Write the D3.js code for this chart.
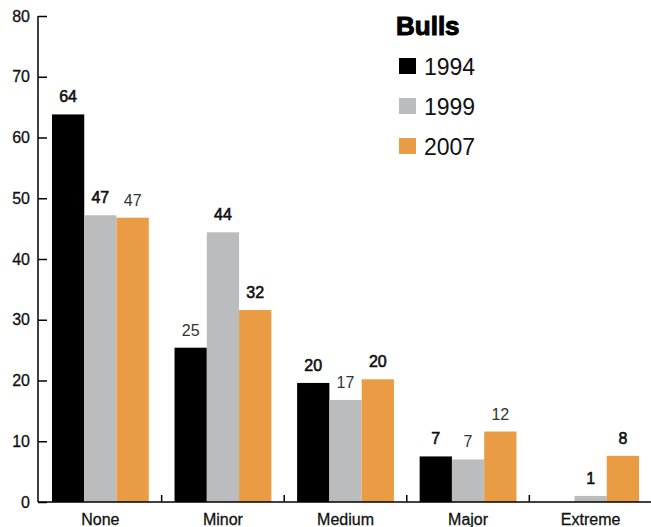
<!DOCTYPE html>
<html>
<head>
<meta charset="utf-8">
<script src="https://cdn.jsdelivr.net/npm/d3@7"></script>
<style>
  body { margin: 0; background: #fff; }
  text { font-family: "Liberation Sans", Arial, sans-serif; }
</style>
</head>
<body>
<svg width="651" height="527"></svg>
<script>
var categories = ["None", "Minor", "Medium", "Major", "Extreme"];
var years = ["1994", "1999", "2007"];
var values1994 = [63.8, 25.4, 19.6, 7.5, 0];
var values1999 = [47.2, 44.4, 16.8, 7, 1];
var values2007 = [46.8, 31.6, 20.2, 11.6, 7.6];
var labels1994 = ["64", "25", "20", "7", ""];
var labels1999 = ["47", "44", "17", "7", "1"];
var labels2007 = ["47", "32", "20", "12", "8"];
// which labels are drawn heavier in the original
var bold1994 = [true, false, true, true, false];
var bold1999 = [true, true, false, false, true];
var bold2007 = [false, true, true, false, true];
var yTicks = [0, 10, 20, 30, 40, 50, 60, 70, 80];
var colors = ["#000000", "#bbbcbe", "#e99c43"];

var svg = d3.select("svg");

var x = d3.scaleBand()
    .domain(categories)
    .range([38, 653])
    .paddingInner(0.21)
    .paddingOuter(0.114);

var xs = d3.scaleBand()
    .domain(years)
    .range([0, x.bandwidth()]);

var y = d3.scaleLinear()
    .domain([0, 80])
    .range([502, 16]);

var series = years.map(function (yr, i) {
    return {
        year: yr,
        color: colors[i],
        values: [values1994, values1999, values2007][i],
        labels: [labels1994, labels1999, labels2007][i],
        bold: [bold1994, bold1999, bold2007][i]
    };
});

var rows = [];
series.forEach(function (s) {
    categories.forEach(function (c, j) {
        rows.push({ cat: c, year: s.year, color: s.color, v: s.values[j], label: s.labels[j], bold: s.bold[j] });
    });
});

// bars
svg.append("g")
    .selectAll("rect")
    .data(rows)
    .enter()
    .append("rect")
    .attr("x", function (d) { return x(d.cat) + xs(d.year); })
    .attr("width", xs.bandwidth())
    .attr("y", function (d) { return y(d.v); })
    .attr("height", function (d) { return y(0) - y(d.v); })
    .attr("fill", function (d) { return d.color; });

// value labels
svg.append("g")
    .selectAll("text")
    .data(rows.filter(function (d) { return d.label !== ""; }))
    .enter()
    .append("text")
    .attr("x", function (d) { return x(d.cat) + xs(d.year) + xs.bandwidth() / 2; })
    .attr("y", function (d) { return y(d.v) - 12; })
    .attr("text-anchor", "middle")
    .attr("font-size", 16)
    .attr("fill", function (d) { return d.bold ? "#111" : "#333"; })
    .attr("stroke", function (d) { return d.bold ? "#111" : "none"; })
    .attr("stroke-width", 0.6)
    .text(function (d) { return d.label; });

// y axis
var yAxis = d3.axisRight(y)
    .tickValues(yTicks)
    .tickSize(9)
    .tickFormat("");
var yg = svg.append("g")
    .attr("transform", "translate(38,0)")
    .call(yAxis);
yg.select(".domain").attr("stroke", "#000").attr("stroke-width", 1.5).attr("d", "M0,16V502");
yg.selectAll(".tick line").attr("stroke", "#000").attr("stroke-width", 1.5);

svg.append("g")
    .selectAll("text")
    .data(yTicks)
    .enter()
    .append("text")
    .attr("x", 30)
    .attr("y", function (d) { return y(d); })
    .attr("dy", "0.35em")
    .attr("text-anchor", "end")
    .attr("font-size", 16)
    .attr("fill", "#111")
    .attr("stroke", "#111")
    .attr("stroke-width", 0.3)
    .text(function (d) { return d; });

// x axis line and separators between groups
svg.append("line")
    .attr("x1", 38).attr("x2", 651)
    .attr("y1", y(0)).attr("y2", y(0))
    .attr("stroke", "#000").attr("stroke-width", 1.5);

svg.append("g")
    .selectAll("line")
    .data(categories.slice(1))
    .enter()
    .append("line")
    .attr("x1", function (d) { return x(d) - x.step() * x.paddingInner() / 2; })
    .attr("x2", function (d) { return x(d) - x.step() * x.paddingInner() / 2; })
    .attr("y1", y(0)).attr("y2", y(0) - 7)
    .attr("stroke", "#000").attr("stroke-width", 1.5);

svg.append("g")
    .selectAll("text")
    .data(categories)
    .enter()
    .append("text")
    .attr("x", function (d) { return x(d) + x.bandwidth() / 2; })
    .attr("y", 525)
    .attr("text-anchor", "middle")
    .attr("font-size", 16)
    .attr("fill", "#111")
    .attr("stroke", "#111")
    .attr("stroke-width", 0.3)
    .text(function (d) { return d; });

// legend
var legend = svg.append("g").attr("transform", "translate(396,0)");
legend.append("text")
    .attr("x", 0).attr("y", 35)
    .attr("font-size", 26)
    .attr("font-weight", 900)
    .attr("fill", "#000")
    .attr("stroke", "#000")
    .attr("stroke-width", 1)
    .text("Bulls");

var item = legend.selectAll("g.item")
    .data(series)
    .enter()
    .append("g")
    .attr("class", "item")
    .attr("transform", function (d, i) { return "translate(0," + (58 + i * 40) + ")"; });
item.append("rect")
    .attr("x", 3).attr("width", 17).attr("height", 16)
    .attr("fill", function (d) { return d.color; });
item.append("text")
    .attr("x", 28).attr("y", 17)
    .attr("font-size", 23)
    .attr("fill", "#111")
    .text(function (d) { return d.year; });
</script>
</body>
</html>
